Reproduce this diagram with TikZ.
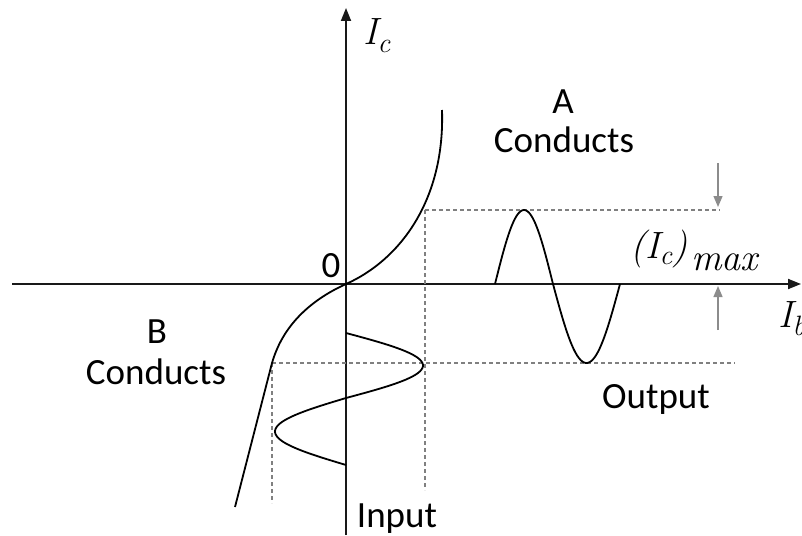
\documentclass[tikz,border=0pt]{standalone}
\usepackage{fontspec}
\newfontfamily\sansf{Carlito}
\usetikzlibrary{arrows.meta}
\tikzset{
  axisline/.style={line width=1.8pt, draw=black!90, -{Triangle[width=10pt,length=13pt]}},
  curveline/.style={line width=1.8pt, black},
  guide/.style={line width=1.3pt, gray, dash pattern=on 4pt off 3pt},
  markarrow/.style={line width=1.2pt, gray!90, -{Triangle[width=9pt,length=11pt]}},
  lbl/.style={font=\sansf\fontsize{37}{40}\selectfont, inner sep=0pt, anchor=base},
  symb/.style={font=\fontsize{38}{40}\selectfont\itshape, inner sep=0pt, anchor=base west}
}
\begin{document}
\begin{tikzpicture}[x=1pt,y=-1pt]
\useasboundingbox[fill=white] (0,0) rectangle (802,535);
% axes
\coordinate (vb) at (346,535);
\coordinate (vt) at (346,8);
\coordinate (hl) at (12,284);
\coordinate (hr) at (801,284);
\draw[axisline] (vb) -- (vt);
\draw[axisline] (hl) -- (hr);
% guide lines
\coordinate (pA) at (425,210);
\coordinate (pA1) at (720,210);
\coordinate (pA2) at (425,490);
\coordinate (pB) at (272,363);
\coordinate (pB1) at (735,363);
\coordinate (pB2) at (272,503);
\draw[guide] (pA) -- (pA1);
\draw[guide] (pA) -- (pA2);
\draw[guide] (pB) -- (pB1);
\draw[guide] (pB) -- (pB2);
% transfer characteristic
\coordinate (o) at (346,284);
\coordinate (ctop) at (442,110);
\coordinate (cbot) at (235,507);
\draw[curveline] (ctop) .. controls (445,200) and (400,260) .. (o)
  .. controls (300,305) and (280,335) .. (pB) -- (cbot);
% input wave
\draw[curveline] plot[domain=0:180, samples=40] ({346+77*sin(\x)}, {333+\x*65/180});
\draw[curveline] plot[domain=0:180, samples=40] ({346-71*sin(\x)}, {398+\x*67/180});
% output wave
\draw[curveline] plot[domain=0:180, samples=40] ({495+\x*58/180}, {284-74*sin(\x)});
\draw[curveline] plot[domain=0:180, samples=40] ({553+\x*67/180}, {284+79*sin(\x)});
% max markers
\coordinate (m1s) at (718,163);
\coordinate (m1e) at (718,207);
\coordinate (m2s) at (718,330);
\coordinate (m2e) at (718,286);
\draw[markarrow] (m1s) -- (m1e);
\draw[markarrow] (m2s) -- (m2e);
% labels
\node[lbl] (a) at (563,113) {A};
\node[lbl] (ac) at (564,152) {Conducts};
\node[lbl] (b) at (157,343) {B};
\node[lbl] (bc) at (156,384) {Conducts};
\node[lbl] (out) at (656,408) {Output};
\node[lbl] (in) at (397,527) {Input};
\node[lbl] (zero) at (331,277) {0};
\node[symb] (ic) at (363,45) {I\raisebox{-8pt}{\fontsize{28}{28}\selectfont c}};
\node[symb] (ib) at (778,327) {I\raisebox{-8pt}{\fontsize{28}{28}\selectfont b}};
\node[symb] (icm) at (630,258) {(I\raisebox{-6pt}{\fontsize{28}{28}\selectfont c})};
\node[symb] (mx) at (691,270) {max};
\end{tikzpicture}
\end{document}
